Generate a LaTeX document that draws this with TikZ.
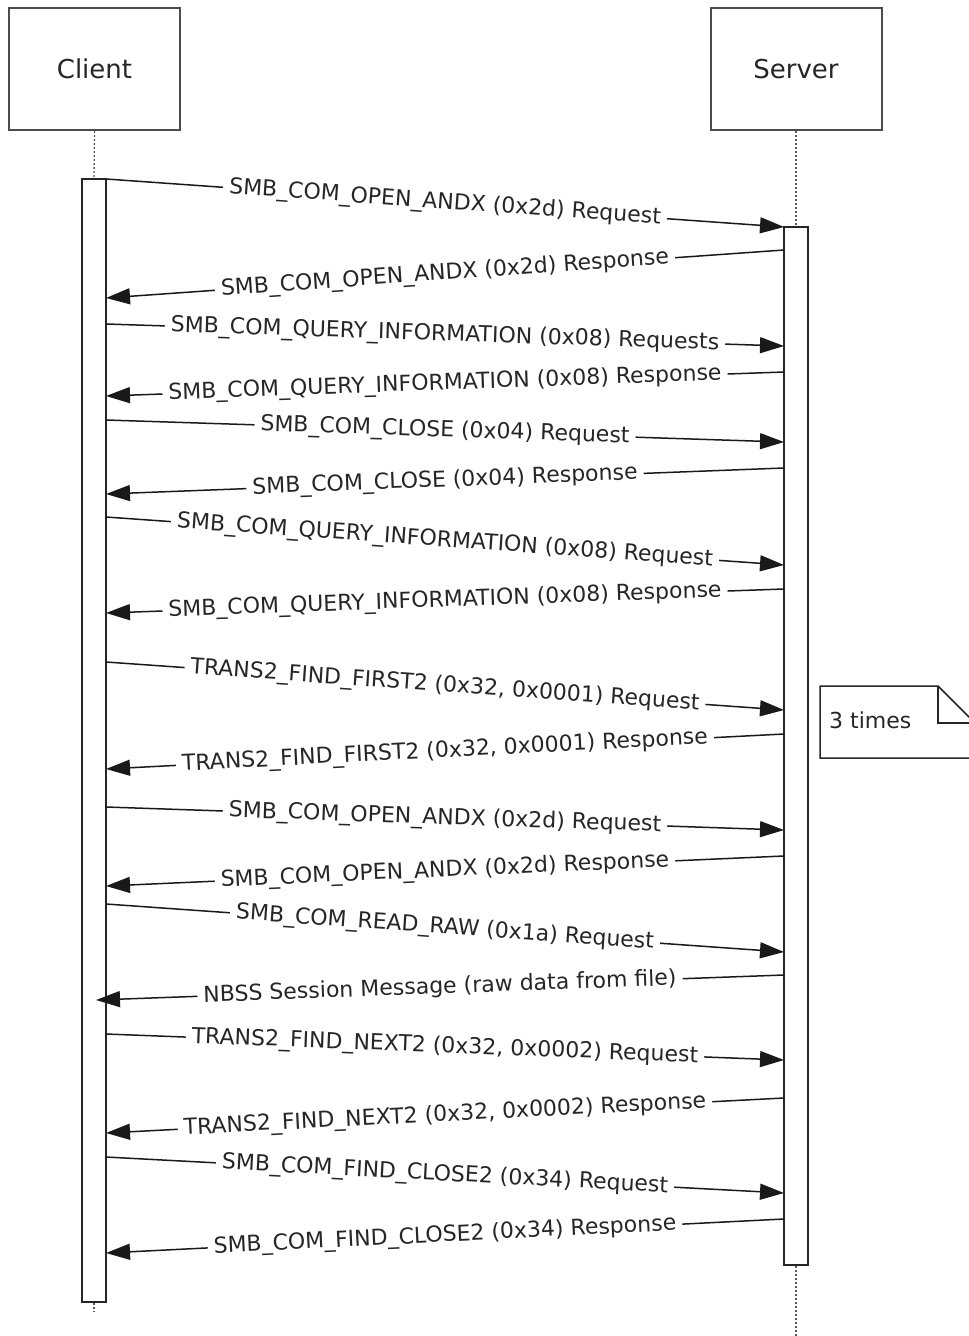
\documentclass[tikz,border=0pt]{standalone}
\usepackage{fontspec}
\setmainfont{DejaVu Sans}
\usetikzlibrary{arrows.meta}
\begin{document}
\begin{tikzpicture}[x=1pt,y=-1pt,
  actor/.style={draw=black!70, line width=2pt, fill=white, minimum width=171pt, minimum height=122pt, font=\fontsize{26}{30}\selectfont, text=black!85, inner sep=0pt},
  act/.style={draw=black!85, line width=1.8pt, fill=white, inner sep=0pt, minimum width=24pt},
  life/.style={draw=black!65, line width=1.3pt, dash pattern=on 2pt off 2pt},
  msg/.style={draw=black!90, line width=1.5pt, -{Triangle[length=24pt,width=16pt]}},
  lbl/.style={midway, sloped, fill=white, inner xsep=6pt, inner ysep=2pt, font=\fontsize{22}{26}\selectfont, text=black!85},
  notebox/.style={draw=black!85, line width=1.5pt, fill=white}
]
\useasboundingbox (0,0) rectangle (969,1336);
\clip (0,0) rectangle (969,1336);

% actors
\node[actor] (client) at (94.5,69) {Client};
\node[actor] (server) at (796,69) {Server};

% activation bars
\node[act, minimum height=1123pt] (ca) at (94,740.5) {};
\node[act, minimum height=1038pt] (sa) at (796,746) {};

% lifelines
\coordinate (cend) at (94,1312);
\coordinate (send) at (796,1336);
\draw[life] (client.south) -- (ca.north);
\draw[life] (server.south) -- (sa.north);
\draw[life] (ca.south) -- (cend);
\draw[life] (sa.south) -- (send);

% message end points
\coordinate (m1a) at (106,179);  \coordinate (m1b) at (784,227);
\coordinate (m2a) at (784,250);  \coordinate (m2b) at (106,298);
\coordinate (m3a) at (106,324);  \coordinate (m3b) at (784,346);
\coordinate (m4a) at (784,372);  \coordinate (m4b) at (106,396);
\coordinate (m5a) at (106,420);  \coordinate (m5b) at (784,442);
\coordinate (m6a) at (784,468);  \coordinate (m6b) at (106,494);
\coordinate (m7a) at (106,517);  \coordinate (m7b) at (784,565);
\coordinate (m8a) at (784,589);  \coordinate (m8b) at (106,613);
\coordinate (m9a) at (106,662);  \coordinate (m9b) at (784,710);
\coordinate (m10a) at (784,734); \coordinate (m10b) at (106,769);
\coordinate (m11a) at (106,807); \coordinate (m11b) at (784,830);
\coordinate (m12a) at (784,856); \coordinate (m12b) at (106,886);
\coordinate (m13a) at (106,904); \coordinate (m13b) at (784,952);
\coordinate (m14a) at (784,975); \coordinate (m14b) at (96,1000);
\coordinate (m15a) at (106,1034); \coordinate (m15b) at (784,1060);
\coordinate (m16a) at (784,1098); \coordinate (m16b) at (106,1133);
\coordinate (m17a) at (106,1157); \coordinate (m17b) at (784,1193);
\coordinate (m18a) at (784,1219); \coordinate (m18b) at (106,1253);

\draw[msg] (m1a) -- node[lbl] (l1) {SMB\_COM\_OPEN\_ANDX (0x2d) Request} (m1b);
\draw[msg] (m2a) -- node[lbl] (l2) {SMB\_COM\_OPEN\_ANDX (0x2d) Response} (m2b);
\draw[msg] (m3a) -- node[lbl] (l3) {SMB\_COM\_QUERY\_INFORMATION (0x08) Requests} (m3b);
\draw[msg] (m4a) -- node[lbl] (l4) {SMB\_COM\_QUERY\_INFORMATION (0x08) Response} (m4b);
\draw[msg] (m5a) -- node[lbl] (l5) {SMB\_COM\_CLOSE (0x04) Request} (m5b);
\draw[msg] (m6a) -- node[lbl] (l6) {SMB\_COM\_CLOSE (0x04) Response} (m6b);
\draw[msg] (m7a) -- node[lbl] (l7) {SMB\_COM\_QUERY\_INFORMATION (0x08) Request} (m7b);
\draw[msg] (m8a) -- node[lbl] (l8) {SMB\_COM\_QUERY\_INFORMATION (0x08) Response} (m8b);
\draw[msg] (m9a) -- node[lbl] (l9) {TRANS2\_FIND\_FIRST2 (0x32, 0x0001) Request} (m9b);
\draw[msg] (m10a) -- node[lbl] (l10) {TRANS2\_FIND\_FIRST2 (0x32, 0x0001) Response} (m10b);
\draw[msg] (m11a) -- node[lbl] (l11) {SMB\_COM\_OPEN\_ANDX (0x2d) Request} (m11b);
\draw[msg] (m12a) -- node[lbl] (l12) {SMB\_COM\_OPEN\_ANDX (0x2d) Response} (m12b);
\draw[msg] (m13a) -- node[lbl] (l13) {SMB\_COM\_READ\_RAW (0x1a) Request} (m13b);
\draw[msg] (m14a) -- node[lbl] (l14) {NBSS Session Message (raw data from file)} (m14b);
\draw[msg] (m15a) -- node[lbl] (l15) {TRANS2\_FIND\_NEXT2 (0x32, 0x0002) Request} (m15b);
\draw[msg] (m16a) -- node[lbl] (l16) {TRANS2\_FIND\_NEXT2 (0x32, 0x0002) Response} (m16b);
\draw[msg] (m17a) -- node[lbl] (l17) {SMB\_COM\_FIND\_CLOSE2 (0x34) Request} (m17b);
\draw[msg] (m18a) -- node[lbl] (l18) {SMB\_COM\_FIND\_CLOSE2 (0x34) Response} (m18b);

% note
\draw[notebox] (820,686) -- (938,686) -- (975,723) -- (975,758) -- (820,758) -- cycle;
\draw[notebox, fill=none] (938,686) -- (938,723) -- (975,723);
\node[anchor=west, inner sep=0pt, font=\fontsize{22}{26}\selectfont, text=black!85] (note) at (829,720) {3 times};
\end{tikzpicture}
\end{document}
